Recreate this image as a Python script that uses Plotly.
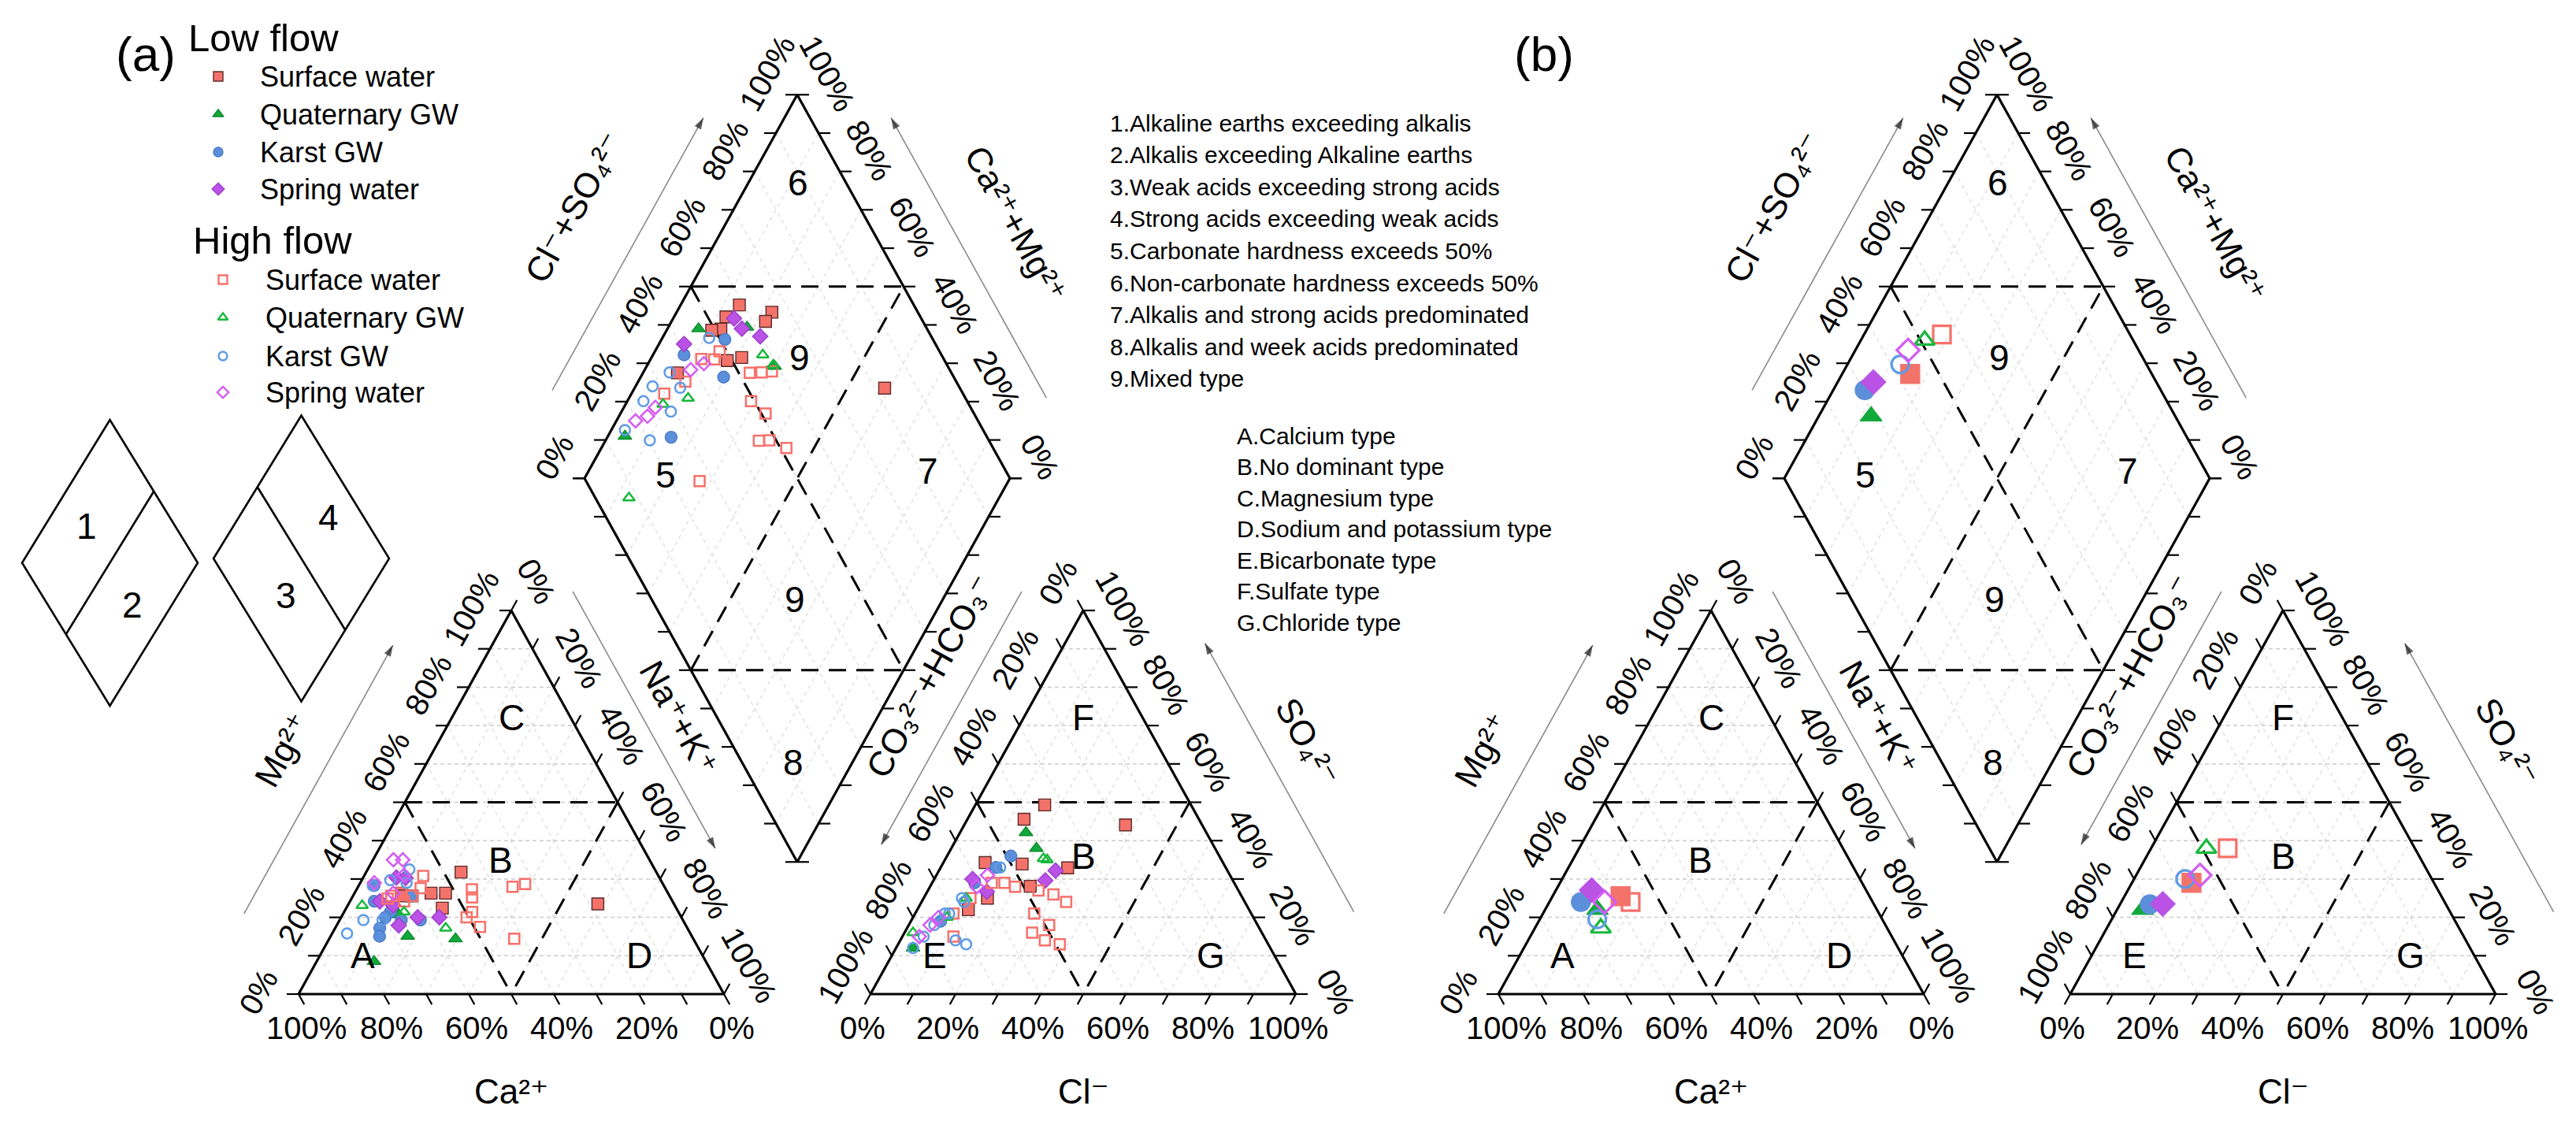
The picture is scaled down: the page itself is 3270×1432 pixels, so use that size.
import numpy as np
import plotly.graph_objects as go

W, H = 3270, 1432
FONT = "Liberation Sans, Arial, Helvetica, DejaVu Sans, sans-serif"

FLOWS = ["Low flow", "High flow"]
SERIES = ["Surface water", "Quaternary GW", "Karst GW", "Spring water"]

# ---------------- panel (a) data ----------------
# cation triangle: [Ca %, Mg %]  (Na+K = 100 - Ca - Mg)
a_cat_low_surface = [[45.9, 31.8], [55.7, 26.3], [52.3, 26.3], [55.0, 22.4], [17.9, 23.5],
                     [62.7, 26.3], [60.5, 25.6], [62.4, 25.6]]
a_cat_low_quat = [[66.8, 15.1], [55.9, 14.4], [78.0, 8.5], [66.1, 20.7]]
a_cat_low_karst = [[68.1, 28.3], [72.3, 17.2], [73.4, 15.1], [66.2, 19.3], [61.7, 19.3],
                   [60.5, 25.6], [67.7, 21.4], [70.1, 24.2], [69.6, 20.0]]
a_cat_low_spring = [[61.8, 30.4], [59.7, 30.3], [56.9, 20.0], [62.0, 20.0], [67.5, 17.9],
                    [68.8, 24.2], [66.2, 23.1]]
a_cat_high_surface = [[55.3, 30.8], [45.6, 27.3], [46.6, 25.2], [48.5, 21.4], [50.5, 20.0],
                      [48.6, 17.5], [35.7, 28.0], [32.4, 28.7], [42.1, 14.4], [62.7, 26.3],
                      [60.5, 25.6], [65.4, 25.6], [63.1, 24.2], [57.5, 27.6], [66.6, 24.9]]
a_cat_high_quat = [[73.5, 23.1], [56.8, 17.2], [64.5, 21.4]]
a_cat_high_karst = [[80.7, 15.8], [57.7, 32.5], [75.1, 19.3], [68.4, 28.3], [63.6, 29.7],
                    [60.1, 29.0], [70.6, 19.3]]
a_cat_high_spring = [[60.2, 35.0], [58.0, 35.0], [67.7, 29.0], [64.6, 26.3], [59.7, 31.0]]

# anion triangle: [Cl %, SO4 %]  (HCO3+CO3 = rest)
a_an_low_surface = [[16.3, 49.3], [13.3, 45.6], [37.9, 44.1], [29.9, 32.9], [9.8, 34.3],
                    [18.7, 33.9], [23.5, 28.1], [12.0, 22.0], [15.0, 25.0]]
a_an_low_quat = [[15.5, 42.1], [20.0, 38.0], [4.0, 12.0], [13.0, 33.0]]
a_an_low_karst = [[15.0, 36.0], [10.0, 29.0], [13.0, 33.0], [7.0, 19.0]]
a_an_low_spring = [[27.4, 32.2], [26.3, 29.6], [14.0, 26.7], [9.0, 30.0]]
a_an_high_surface = [[26, 27], [30, 26], [34, 24], [28, 21], [33, 18], [30, 16], [34, 14],
                     [38, 13], [12, 15], [9, 21], [14, 29], [17, 29], [20, 28], [11, 25]]
a_an_high_quat = [[23.0, 35.3], [24.0, 35.0], [10.0, 25.0], [8.0, 20.0], [2.0, 16.0]]
a_an_high_karst = [[14, 33], [9, 25], [7, 21], [6, 18], [4, 12], [5, 15], [8, 21], [10, 24],
                   [13, 14], [16, 13]]
a_an_high_spring = [[4, 15], [5, 18], [6, 20], [11, 28], [12, 31]]

# diamond: [Cl+SO4 %, Na+K %]
a_dia_low_surface = [[59.0, 13.8], [54.3, 12.2], [65.7, 22.4], [63.0, 22.1], [51.5, 12.6],
                     [49.2, 10.6], [52.7, 21.2], [48.9, 18.2], [82.3, 58.8], [35.6, 8.1]]
a_dia_low_quat = [[46.3, 7.3], [57.9, 18.5], [59.3, 30.1], [15.0, 4.0]]
a_dia_low_karst = [[51.1, 14.9], [39.5, 7.3], [45.9, 19.5], [25.7, 15.0]]
a_dia_low_spring = [[56.0, 14.3], [56.5, 17.5], [59.8, 22.8], [40.9, 5.9]]
a_dia_high_surface = [[52.6, 25.1], [55.4, 27.8], [58.0, 30.1], [49.2, 29.1], [51.0, 34.1],
                      [45.9, 36.1], [48.4, 38.5], [51.4, 43.5], [26.7, 27.4], [29.8, 7.7],
                      [43.0, 11.9], [46.0, 15.0], [48.3, 15.2], [36.3, 11.1]]
a_dia_high_quat = [[58.0, 25.8], [59.1, 29.6], [34.8, 13.9], [28.1, 8.8], [7.9, 13.0]]
a_dia_high_karst = [[47.6, 11.0], [33.8, 6.2], [28.0, 4.0], [23.9, 3.8], [15.8, 3.2],
                    [20.3, 10.4], [29.0, 11.6], [34.3, 10.7]]
a_dia_high_spring = [[19.5, 4.5], [22.9, 6.7], [25.9, 7.4], [39.1, 10.8], [43.0, 13.1]]

# ---------------- panel (b) data (one mean sample per series) ----------------
# order: low surface, low quaternary, low karst, low spring, high surface, high quaternary, high karst, high spring
b_cat_ca = [58.5, 65.7, 68.6, 64.5, 56.9, 67.3, 67.0, 63.0]
b_cat_mg = [25.5, 22.0, 24.0, 27.1, 24.0, 17.2, 19.5, 24.0]
b_an_cl = [14.0, 6.0, 7.0, 10.0, 18.0, 13.0, 12.0, 15.0]
b_an_so4 = [29.0, 22.0, 23.4, 23.5, 38.0, 38.0, 30.0, 31.0]
b_dia_clso4 = [43.2, 28.5, 30.4, 33.5, 55.8, 51.0, 42.1, 45.8]
b_dia_nak = [16.0, 12.3, 7.4, 8.4, 18.3, 15.0, 12.4, 12.4]

# axis tick values
tick_vals = list(range(0, 101, 10))
label_vals = list(range(0, 101, 20))

cation_types = ["A", "B", "C", "D"]
anion_types = ["E", "B", "F", "G"]
diamond_fields = ["6", "9", "5", "7", "9", "8"]

axis_titles = {"Mg": "Mg²⁺", "NaK": "Na⁺+K⁺", "HCO3": "CO₃²⁻+HCO₃⁻", "SO4": "SO₄²⁻",
               "ClSO4": "Cl⁻+SO₄²⁻", "CaMg": "Ca²⁺+Mg²⁺", "Ca": "Ca²⁺", "Cl": "Cl⁻"}

list_numbers = ["1.Alkaline earths exceeding alkalis",
                "2.Alkalis exceeding Alkaline earths",
                "3.Weak acids exceeding strong acids",
                "4.Strong acids exceeding weak acids",
                "5.Carbonate hardness exceeds 50%",
                "6.Non-carbonate hardness exceeds 50%",
                "7.Alkalis and strong acids predominated",
                "8.Alkalis and week acids predominated",
                "9.Mixed type"]
list_letters = ["A.Calcium type", "B.No dominant type", "C.Magnesium type",
                "D.Sodium and potassium type", "E.Bicarbonate type", "F.Sulfate type",
                "G.Chloride type"]

# ---------------- styles ----------------
STYLE = {
    ("Low flow", "Surface water"): dict(symbol="square", color="#F3736B", edge="#5e2a2a"),
    ("Low flow", "Quaternary GW"): dict(symbol="triangle-up", color="#13A83B", edge="#0d8a2e"),
    ("Low flow", "Karst GW"): dict(symbol="circle", color="#5C8FDA", edge="#4a7cc6"),
    ("Low flow", "Spring water"): dict(symbol="diamond", color="#BA52E6", edge="#9d3fcc"),
    ("High flow", "Surface water"): dict(symbol="square-open", color="#F8706A"),
    ("High flow", "Quaternary GW"): dict(symbol="triangle-up-open", color="#18B83C"),
    ("High flow", "Karst GW"): dict(symbol="circle-open", color="#5E9BE6"),
    ("High flow", "Spring water"): dict(symbol="diamond-open", color="#D45CF2"),
}

A_DATA = {
    ("Low flow", "Surface water"): (a_cat_low_surface, a_an_low_surface, a_dia_low_surface),
    ("Low flow", "Quaternary GW"): (a_cat_low_quat, a_an_low_quat, a_dia_low_quat),
    ("Low flow", "Karst GW"): (a_cat_low_karst, a_an_low_karst, a_dia_low_karst),
    ("Low flow", "Spring water"): (a_cat_low_spring, a_an_low_spring, a_dia_low_spring),
    ("High flow", "Surface water"): (a_cat_high_surface, a_an_high_surface, a_dia_high_surface),
    ("High flow", "Quaternary GW"): (a_cat_high_quat, a_an_high_quat, a_dia_high_quat),
    ("High flow", "Karst GW"): (a_cat_high_karst, a_an_high_karst, a_dia_high_karst),
    ("High flow", "Spring water"): (a_cat_high_spring, a_an_high_spring, a_dia_high_spring),
}

# ---------------- geometry ----------------
S = 540.0      # triangle side (px)
HT = 487.0     # triangle height (px)
Y0 = 1262.0    # base line
GAP = 186.0    # gap between triangles
PANEL_X = [379.0, 1902.0]
U = np.array([270.0, 487.0]) / np.hypot(270.0, 487.0)   # unit along right-leaning side
ANG = float(np.degrees(np.arctan2(487.0, 270.0)))


def geom(ox):
    g = {}
    g["CL"] = np.array([ox, Y0])
    g["CR"] = np.array([ox + S, Y0])
    g["CA"] = np.array([ox + S / 2, Y0 - HT])
    g["AL"] = np.array([ox + S + GAP, Y0])
    g["AR"] = g["AL"] + [S, 0]
    g["AA"] = g["AL"] + [S / 2, -HT]
    B = np.array([ox + S + GAP / 2, Y0 - GAP / S * HT])
    g["B"], g["L"], g["R"], g["T"] = B, B + [-S / 2, -HT], B + [S / 2, -HT], B + [0, -2 * HT]
    return g


def cat_xy(g, ca, mg):
    na = 100.0 - ca - mg
    return g["CL"] + np.array([(na + mg / 2) / 100 * S, -mg / 100 * HT])


def an_xy(g, cl, so4):
    return g["AL"] + np.array([(cl + so4 / 2) / 100 * S, -so4 / 100 * HT])


def dia_xy(g, a, n):
    return g["L"] + a / 100 * (g["T"] - g["L"]) + n / 100 * (g["B"] - g["L"])


class Seg:
    def __init__(self):
        self.x, self.y = [], []

    def add(self, p, q):
        self.x += [p[0], q[0], None]
        self.y += [p[1], q[1], None]


frame, divide, grid_h, grid_d, ticks, shafts = Seg(), Seg(), Seg(), Seg(), Seg(), Seg()
heads_x, heads_y, heads_s = [], [], []
annos = []


def text(x, y, s, size, angle=0, xanchor="center", yanchor="middle", color="black"):
    annos.append(dict(x=x, y=y, text=s, showarrow=False, textangle=angle, xanchor=xanchor,
                      yanchor=yanchor, font=dict(size=size, family=FONT, color=color),
                      xref="x", yref="y"))


def arrow(tail, head):
    shafts.add(tail, head)
    heads_x.extend([tail[0], head[0]])
    heads_y.extend([tail[1], head[1]])
    heads_s.extend([0, 15])


TICK_LEN = 15
LBL = 40
TITLE = 44
REGION = 46


def draw_panel(ox):
    g = geom(ox)
    CL, CR, CA, AL, AR, AA = g["CL"], g["CR"], g["CA"], g["AL"], g["AR"], g["AA"]
    L, R, T, B = g["L"], g["R"], g["T"], g["B"]
    # grids
    for p in tick_vals[1:-1]:
        grid_h.add(cat_xy(g, 100 - p, p), cat_xy(g, 0, p))
        grid_d.add(cat_xy(g, p, 0), cat_xy(g, p, 100 - p))
        grid_d.add(cat_xy(g, 100 - p, 0), cat_xy(g, 0, 100 - p))
        grid_h.add(an_xy(g, 0, p), an_xy(g, 100 - p, p))
        grid_d.add(an_xy(g, p, 0), an_xy(g, p, 100 - p))
        grid_d.add(an_xy(g, 0, 100 - p), an_xy(g, 100 - p, 0))
        grid_d.add(dia_xy(g, p, 0), dia_xy(g, p, 100))
        grid_d.add(dia_xy(g, 0, p), dia_xy(g, 100, p))
    # frames
    for a, b in [(CL, CR), (CR, CA), (CA, CL), (AL, AR), (AR, AA), (AA, AL),
                 (L, T), (T, R), (R, B), (B, L)]:
        frame.add(a, b)
    # dividers
    divide.add(cat_xy(g, 50, 50), cat_xy(g, 0, 50))
    divide.add(cat_xy(g, 50, 50), cat_xy(g, 50, 0))
    divide.add(cat_xy(g, 0, 50), cat_xy(g, 50, 0))
    divide.add(an_xy(g, 0, 50), an_xy(g, 50, 50))
    divide.add(an_xy(g, 0, 50), an_xy(g, 50, 0))
    divide.add(an_xy(g, 50, 50), an_xy(g, 50, 0))
    divide.add(dia_xy(g, 50, 0), dia_xy(g, 100, 50))
    divide.add(dia_xy(g, 0, 50), dia_xy(g, 50, 100))
    divide.add(dia_xy(g, 50, 0), dia_xy(g, 50, 100))
    divide.add(dia_xy(g, 0, 50), dia_xy(g, 100, 50))

    sides = [
        # point(p), tick dir, label offset, angle, labelled
        (lambda p: cat_xy(g, p, 0), (U[0], U[1]), (10, 43), 0, True),
        (lambda p: cat_xy(g, 100 - p, p), (-1, 0), (-51, -3), -ANG, True),
        (lambda p: cat_xy(g, 0, 100 - p), (U[0], -U[1]), (32, -37), ANG, True),
        (lambda p: an_xy(g, p, 0), (-U[0], U[1]), (-10, 43), 0, True),
        (lambda p: an_xy(g, 0, 100 - p), (-U[0], -U[1]), (-32, -36), -ANG, True),
        (lambda p: an_xy(g, 100 - p, p), (1, 0), (51, -3), ANG, True),
        (lambda p: dia_xy(g, p, 0), (-1, 0), (-38, -27), -ANG, True),
        (lambda p: dia_xy(g, 100, 100 - p), (1, 0), (38, -27), ANG, True),
        (lambda p: dia_xy(g, 0, p), (-1, 0), None, 0, False),
        (lambda p: dia_xy(g, p, 100), (1, 0), None, 0, False),
    ]
    for fn, td, off, ang, lab in sides:
        td = np.array(td, dtype=float)
        for p in tick_vals:
            pt = fn(p)
            ticks.add(pt, pt + td * TICK_LEN)
            if lab and p in label_vals:
                text(pt[0] + off[0], pt[1] + off[1], f"{p}%", LBL, ang)

    # axis titles + arrows
    nl = np.array([-U[1], -U[0]])   # outward normal of a left side
    nr = np.array([U[1], -U[0]])    # outward normal of a right side
    titled = [
        (CL, CA, nl, 110, 0.10, 0.80, 0.47, 168, -ANG, axis_titles["Mg"]),
        (CA, CR, nr, 80, 0.03, 0.70, 0.40, 120, ANG, axis_titles["NaK"]),
        (AA, AL, nl, 80, 0.03, 0.69, 0.30, 130, -ANG, axis_titles["HCO3"]),
        (AR, AA, nr, 115, 0.10, 0.80, 0.49, 168, ANG, axis_titles["SO4"]),
        (L, T, nl, 90, 0.14, 0.85, 0.53, 178, -ANG, axis_titles["ClSO4"]),
        (R, T, nr, 90, 0.12, 0.85, 0.50, 163, ANG, axis_titles["CaMg"]),
    ]
    for P0, P1, nv, dA, t0, t1, tl, dl, ang, s in titled:
        tail = P0 + t0 * (P1 - P0) + dA * nv
        head = P0 + t1 * (P1 - P0) + dA * nv
        arrow(tail, head)
        c = P0 + tl * (P1 - P0) + dl * nv
        text(c[0], c[1], s, TITLE, ang)
    text(CL[0] + S / 2, Y0 + 123, axis_titles["Ca"], TITLE)
    text(AL[0] + S / 2, Y0 + 123, axis_titles["Cl"], TITLE)

    # field labels
    for lab, (ca, mg) in zip(cation_types, [(80, 10), (35, 35), (14, 72), (15, 10)]):
        p = cat_xy(g, ca, mg)
        text(p[0], p[1], lab, REGION)
    for lab, (cl, so4) in zip(anion_types, [(10, 10), (32, 36), (14, 72), (75, 10)]):
        p = an_xy(g, cl, so4)
        text(p[0], p[1], lab, REGION)
    for lab, (a, n) in zip(diamond_fields, [(88.7, 11.6), (66.3, 34.8), (19.5, 18.6),
                                              (81.7, 79.8), (33.7, 65.2), (12.0, 86.1)]):
        p = dia_xy(g, a, n)
        text(p[0], p[1], lab, REGION)
    return g


GA = draw_panel(PANEL_X[0])
GB = draw_panel(PANEL_X[1])

fig = go.Figure()
fig.add_trace(go.Scatter(x=grid_d.x, y=grid_d.y, mode="lines", hoverinfo="skip", showlegend=False,
                         line=dict(color="#dedede", width=1.3, dash="5px,5px")))
fig.add_trace(go.Scatter(x=grid_h.x, y=grid_h.y, mode="lines", hoverinfo="skip", showlegend=False,
                         line=dict(color="#cccccc", width=1.5, dash="5px,4px")))
fig.add_trace(go.Scatter(x=divide.x, y=divide.y, mode="lines", hoverinfo="skip", showlegend=False,
                         line=dict(color="black", width=3, dash="22px,13px")))
fig.add_trace(go.Scatter(x=ticks.x, y=ticks.y, mode="lines", hoverinfo="skip", showlegend=False,
                         line=dict(color="black", width=2.2)))
fig.add_trace(go.Scatter(x=frame.x, y=frame.y, mode="lines", hoverinfo="skip", showlegend=False,
                         line=dict(color="black", width=3.2)))
fig.add_trace(go.Scatter(x=shafts.x, y=shafts.y, mode="lines", hoverinfo="skip", showlegend=False,
                         line=dict(color="#8a8a8a", width=1.6)))
fig.add_trace(go.Scatter(x=heads_x, y=heads_y, mode="markers", hoverinfo="skip", showlegend=False,
                         marker=dict(symbol="arrow", size=heads_s, color="#1a1a1a",
                                     angleref="previous", line=dict(width=0))))


def marker_style(key, size_f, size_o, lw_o, edge=True):
    st = STYLE[key]
    if st["symbol"].endswith("open"):
        return dict(symbol=st["symbol"], size=size_o, color=st["color"],
                    line=dict(color=st["color"], width=lw_o))
    return dict(symbol=st["symbol"], size=size_f, color=st["color"],
                line=dict(color=st["edge"] if edge else st["color"], width=1.4))


# panel (a) points
for flow in FLOWS:
    for ser in SERIES:
        key = (flow, ser)
        cat, an, dia = A_DATA[key]
        pts = [cat_xy(GA, c, m) for c, m in cat]
        pts += [an_xy(GA, c, s) for c, s in an]
        pts += [dia_xy(GA, a, n) for a, n in dia]
        fig.add_trace(go.Scatter(
            x=[p[0] for p in pts], y=[p[1] for p in pts], mode="markers",
            name=f"{flow} – {ser}", showlegend=False,
            marker=marker_style(key, 15, 13, 2.5)))

# panel (b) points
keys_b = [(f, s) for f in FLOWS for s in SERIES]
for i, key in enumerate(keys_b):
    pts = [cat_xy(GB, b_cat_ca[i], b_cat_mg[i]),
           an_xy(GB, b_an_cl[i], b_an_so4[i]),
           dia_xy(GB, b_dia_clso4[i], b_dia_nak[i])]
    fig.add_trace(go.Scatter(
        x=[p[0] for p in pts], y=[p[1] for p in pts], mode="markers",
        name=f"{key[0]} – {key[1]}", showlegend=False,
        marker=marker_style(key, 24, 22, 3.2, edge=False)))

# ---------------- legend (drawn as a key block) ----------------
LEG_TITLE = [(237, 48), (243, 305)]          # group title left/centre-y
LEG_SYM_X = [277, 283]
LEG_TXT_X = [328, 335]
LEG_ROWS = [[97, 145, 193, 240], [355, 403, 452, 498]]
for gi, flow in enumerate(FLOWS):
    text(LEG_TITLE[gi][0], LEG_TITLE[gi][1], flow, 49, xanchor="left")
    for ri, ser in enumerate(SERIES):
        key = (flow, ser)
        fig.add_trace(go.Scatter(
            x=[LEG_SYM_X[gi]], y=[LEG_ROWS[gi][ri]], mode="markers", hoverinfo="skip",
            showlegend=False, marker=marker_style(key, 12, 11, 2.4)))
        text(LEG_TXT_X[gi], LEG_ROWS[gi][ri], ser, 36, xanchor="left")

# panel labels
text(185, 68, "(a)", 62)
text(1960, 68, "(b)", 62)

# classification lists
for i, s in enumerate(list_numbers):
    text(1407, 156 + 40.6 * i, s, 30, xanchor="left")
for i, s in enumerate(list_letters):
    text(1568, 553 + 39.5 * i, s, 30, xanchor="left")

# schematic diamonds
shapes = []
for cx, cy, split in [(139.5, 714.5, "ur"), (382.5, 709.0, "ul")]:
    hw, hh = 111.5, 181.5
    shapes.append(dict(type="path", xref="x", yref="y",
                       path=f"M{cx},{cy-hh} L{cx+hw},{cy} L{cx},{cy+hh} L{cx-hw},{cy} Z",
                       line=dict(color="black", width=2.6)))
    if split == "ur":
        p, q = (cx + hw / 2, cy - hh / 2), (cx - hw / 2, cy + hh / 2)
    else:
        p, q = (cx - hw / 2, cy - hh / 2), (cx + hw / 2, cy + hh / 2)
    shapes.append(dict(type="line", xref="x", yref="y", x0=p[0], y0=p[1], x1=q[0], y1=q[1],
                       line=dict(color="black", width=2.6)))
text(139.5 - 29.5, 714.5 - 46.5, "1", REGION)
text(139.5 + 28.5, 714.5 + 53.5, "2", REGION)
text(382.5 + 34.5, 709 - 52, "4", REGION)
text(382.5 - 19.5, 709 + 47, "3", REGION)

fig.update_layout(
    width=W, height=H, margin=dict(l=0, r=0, t=0, b=0),
    paper_bgcolor="white", plot_bgcolor="white",
    xaxis=dict(range=[0, W], visible=False, fixedrange=True),
    yaxis=dict(range=[H, 0], visible=False, fixedrange=True),
    annotations=annos, shapes=shapes,
    font=dict(family=FONT, color="black"),
    showlegend=False,
)

fig.write_html("out.html", config={"displayModeBar": False},
               post_script="document.body.style.margin='0';document.body.style.overflow='hidden';")
